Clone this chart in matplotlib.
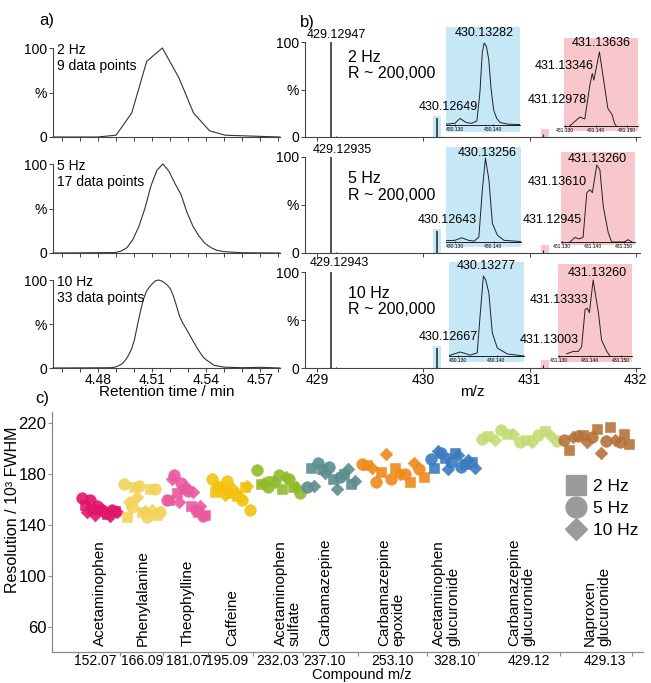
import numpy as np
import matplotlib.pyplot as plt
from matplotlib.lines import Line2D
from matplotlib.patches import Rectangle
from matplotlib.ticker import MultipleLocator, FixedLocator

plt.rcParams['font.family'] = ['Liberation Sans', 'DejaVu Sans']

W, H = 651, 683

# ---- a) extracted ion chromatograms (retention time in min, intensity in %)
rt_2hz = [4.455, 4.4796, 4.4900, 4.4987, 4.5070, 4.5157, 4.5250, 4.5330, 4.5419, 4.5506, 4.581]
int_2hz = [0, 0, 2, 27, 85, 100, 66, 27, 7, 2, 0]

rt_5hz = [4.455, 4.4893, 4.4927, 4.4960, 4.4993, 4.5027, 4.5060, 4.5093, 4.5127, 4.5160,
          4.5193, 4.5227, 4.5260, 4.5293, 4.5327, 4.5360, 4.5393, 4.5427, 4.5460, 4.5500,
          4.5600, 4.581]
int_5hz = [0, 0.5, 2, 6, 15, 30, 50, 75, 93, 100, 92, 78, 66, 46, 30, 19, 11, 6, 3, 1.5, 0.3, 0]

rt_10hz = [4.455, 4.4868, 4.4885, 4.4902, 4.4918, 4.4935, 4.4952, 4.4968, 4.4985, 4.5002,
           4.5018, 4.5035, 4.5052, 4.5068, 4.5085, 4.5102, 4.5118, 4.5135, 4.5152, 4.5168,
           4.5185, 4.5202, 4.5218, 4.5235, 4.5252, 4.5268, 4.5285, 4.5302, 4.5318, 4.5335,
           4.5352, 4.5368, 4.5385, 4.5402, 4.5445, 4.5500, 4.5600, 4.5700, 4.581]
int_10hz = [0, 0.3, 0.7, 1.5, 3, 5, 9, 14, 21, 32, 48, 64, 78, 87, 92, 96, 99, 100, 99, 97,
            94, 90, 82, 71, 59, 52, 46, 40, 34, 28, 22, 17, 12, 9, 3, 1, 0.3, 0.8, 0]

rt_ticks = [4.48, 4.51, 4.54, 4.57]
a_rate = ['2 Hz', '5 Hz', '10 Hz']
a_points = ['9 data points', '17 data points', '33 data points']

# ---- b) mass spectra
b_rate = ['2 Hz', '5 Hz', '10 Hz']
main_mz = [429.12947, 429.12935, 429.12943]
iso1_mz = [430.12649, 430.12643, 430.12667]
iso1_int = [20, 23, 21]
iso1_top = ['430.13282', '430.13256', '430.13277']
iso2_mz = [431.12978, 431.12945, 431.13003]
iso2_int = [3, 3, 3]
iso2_mid = ['431.13346', '431.13610', '431.13333']
iso2_top = ['431.13636', '431.13260', '431.13260']
minor_mz = 429.18
minor_int = 1.5

blue_mz = [
    [430.1277, 430.1300, 430.1314, 430.1330, 430.1344, 430.1358, 430.1366, 430.1372, 430.1377,
     430.1383, 430.1389, 430.1395, 430.1402, 430.1410, 430.1419, 430.1440, 430.1471],
    [430.1277, 430.1300, 430.1318, 430.1335, 430.1350, 430.1362, 430.1371, 430.1379, 430.1388,
     430.1397, 430.1410, 430.1427, 430.1471],
    [430.1277, 430.1306, 430.1320, 430.1332, 430.1350, 430.1358, 430.1366, 430.1372, 430.1380,
     430.1389, 430.1402, 430.1428, 430.1471],
]
blue_int = [
    [1, 2, 8, 3, 2, 5, 40, 88, 100, 96, 80, 45, 18, 8, 3, 1, 0.5],
    [1.5, 2, 5, 2, 1, 6, 62, 100, 74, 22, 8, 2, 0.5],
    [0.5, 5, 3, 1, 4, 54, 100, 95, 79, 29, 10, 2.5, 0],
]
pink_mz = [
    [431.1315, 431.1326, 431.1348, 431.1364, 431.1380, 431.1388, 431.1393, 431.1411, 431.1427,
     431.1438, 431.1452, 431.1459, 431.1465],
    [431.1326, 431.1342, 431.1355, 431.1368, 431.1380, 431.1390, 431.1398, 431.1412, 431.1422,
     431.1433, 431.1449, 431.1460, 431.1500, 431.1513, 431.1525],
    [431.1325, 431.1346, 431.1362, 431.1373, 431.1384, 431.1391, 431.1398, 431.1410, 431.1427,
     431.1437, 431.1454, 431.1464],
]
pink_int = [
    [0, 4, 12, 9.5, 55, 71, 62, 100, 55, 24, 15, 4, 0],
    [0, 6, 4, 6, 64, 68, 64, 100, 94, 46, 12, 0, 0, 3, 0],
    [3, 6, 6, 12, 61, 63, 57, 100, 57, 21, 6, 0],
]

# ---- c) resolution per compound
compounds = ['Acetaminophen', 'Phenylalanine', 'Theophylline', 'Caffeine',
             'Acetaminophen\nsulfate', 'Carbamazepine', 'Carbamazepine\nepoxide',
             'Acetaminophen\nglucuronide', 'Carbamazepine\nglucuronide', 'Naproxen\nglucuronide']
compound_mz = ['152.07', '166.09', '181.07', '195.09', '232.03', '237.10', '253.10',
               '328.10', '429.12', '429.13']
res_2hz = [[156, 153, 152, 149, 151], [146, 170, 150, 168, 148], [160, 165, 168, 155, 150, 148],
           [166, 168, 165, 163, 170], [172, 175, 168, 170], [185, 184, 176, 180, 172],
           [187, 182, 185, 174, 178], [185, 193, 197, 188, 190], [210, 212, 207, 214],
           [199, 211, 216, 217, 212, 204]]
res_5hz = [[161, 160, 155, 150, 152], [172, 154, 171, 146, 168, 150], [160, 179, 173, 167, 152, 147],
           [176, 170, 175, 165, 160, 152], [183, 170, 179, 176, 165], [170, 189, 186, 178],
           [188, 174, 176, 180, 184], [192, 197, 190, 186], [208, 215, 205, 211, 206],
           [207, 210, 209, 206, 205]]
res_10hz = [[150, 148, 153, 147, 150], [158, 162, 151, 152], [176, 158, 170, 166, 155],
            [171, 164, 169, 162, 171], [173, 174, 178, 170], [171, 181, 168, 184, 175],
            [185, 196, 180, 189], [198, 184, 195, 191, 185], [207, 212, 205, 210],
            [209, 205, 197, 207]]
colors = ['#e2156d', '#f3d35a', '#ea5a9e', '#f2c20f', '#8fbb2a', '#5c8d8c', '#f08a1a',
          '#3a7cbf', '#c2dc74', '#b5733a']

# layout of panel c (x units = pixels from the first category tick)
block_w = [42, 43, 45, 45, 50, 55, 69, 51, 82, 72]
mz_label_x = [17, 64, 109, 149, 200, 246, 314, 377, 451, 527]
name_x = [22, 65, 110, 154, 210, 247, 313, 368, 443, 519]

fig = plt.figure(figsize=(W / 100, H / 100), dpi=100)


def box(x0, y0, x1, y1):
    return [x0 / W, 1 - y1 / H, (x1 - x0) / W, (y1 - y0) / H]


def ftext(x, y, s, **kw):
    kw.setdefault('va', 'center')
    fig.text(x / W, 1 - y / H, s, **kw)


def fline(x0, y0, x1, y1):
    fig.add_artist(Line2D([x0 / W, x1 / W], [1 - y0 / H, 1 - y1 / H], color='#222', lw=0.7))


def frame(ax):
    for s in ['top', 'right']:
        ax.spines[s].set_visible(False)
    for s in ['left', 'bottom']:
        ax.spines[s].set_color('#444')
        ax.spines[s].set_linewidth(0.8)
    ax.tick_params(which='both', direction='out', length=3, width=0.7, color='#444',
                   labelsize=10, pad=1.5)
    ax.tick_params(axis='x', which='both', labelsize=10, pad=0.5)


# ---------------- a)
a_rt = [rt_2hz, rt_5hz, rt_10hz]
a_int = [int_2hz, int_5hz, int_10hz]
a_rows = [(48, 137), (164, 253), (280, 368)]
for i, (top, bot) in enumerate(a_rows):
    ax = fig.add_axes(box(53, top, 280, bot))
    frame(ax)
    ax.plot(a_rt[i], a_int[i], color='#333', lw=0.8, clip_on=False)
    ax.set_xlim(4.455, 4.581)
    ax.set_ylim(0, 100)
    ax.set_yticks([0, 50, 100])
    ax.set_yticklabels(['0', '%', '100'])
    ax.xaxis.set_major_locator(FixedLocator(rt_ticks))
    ax.xaxis.set_minor_locator(MultipleLocator(0.01))
    ax.set_xticklabels(['%.2f' % t for t in rt_ticks])
    if i < 2:
        ax.tick_params(labelbottom=False)
    else:
        ax.set_xlabel('Retention time / min', fontsize=11, labelpad=-1)
    ftext(57, top + 2, a_rate[i], fontsize=10)
    ftext(57, top + 18, a_points[i], fontsize=10)

ftext(47, 20, 'a)', fontsize=12, ha='center')

# ---------------- b)
blue = '#c6e7f6'
pink = '#f8c7cc'
b_rows = [(42, 137), (157, 253), (272, 368)]
blue_box = [(446, 27, 520, 132, 125, 43), (446, 147, 521, 247, 242, 158), (449, 262, 524, 362, 356, 276)]
pink_box = [(564, 38, 638, 131, 126, 52), (561, 152, 635, 245, 242, 165), (558, 264, 632, 362, 356, 280)]

for i, (top, bot) in enumerate(b_rows):
    ax = fig.add_axes(box(305, top, 640, bot))
    frame(ax)
    ax.set_xlim(428.885, 432.04)
    ax.set_ylim(0, 100)
    ax.set_yticks([0, 50, 100])
    ax.set_yticklabels(['0', '%', '100'])
    ax.set_xticks([429, 430, 431, 432])
    ax.add_patch(Rectangle((iso1_mz[i] - 0.04, 0), 0.08, iso1_int[i] + 2, color=blue, lw=0, zorder=0))
    ax.add_patch(Rectangle((iso2_mz[i] - 0.025, 0), 0.075, iso2_int[i] + 5, color=pink, lw=0, zorder=0))
    ax.vlines([main_mz[i]], 0, 100, color='#222', lw=1.1, clip_on=False)
    ax.vlines([iso1_mz[i]], 0, iso1_int[i], color='#222', lw=1.1)
    ax.vlines([iso2_mz[i], minor_mz], 0, [iso2_int[i], minor_int], color='#222', lw=0.8)
    if i < 2:
        ax.tick_params(labelbottom=False)
    else:
        ax.set_xlabel('m/z', fontsize=11, labelpad=-1)

    # zoomed isotope profiles
    for (x0, y0, x1, y1, base, peak), mz, it, fc, xl, xt in [
            (blue_box[i], blue_mz[i], blue_int[i], blue, (430.1277, 430.1471), [430.130, 430.140]),
            (pink_box[i], pink_mz[i], pink_int[i], pink, (431.1297, 431.1535), [431.130, 431.140, 431.150])]:
        ins = fig.add_axes(box(x0, y0, x1, y1))
        ins.set_zorder(3)
        ins.set_facecolor(fc)
        f0 = (y1 - base) / (y1 - y0)
        f1 = (y1 - peak) / (y1 - y0)
        rng = 100 / (f1 - f0)
        ins.set_ylim(-f0 * rng, -f0 * rng + rng)
        ins.set_xlim(*xl)
        ins.plot(mz, it, color='#222', lw=0.7)
        for s in ['top', 'right', 'left']:
            ins.spines[s].set_visible(False)
        ins.spines['bottom'].set_position(('data', 0))
        ins.spines['bottom'].set_linewidth(0.6)
        ins.set_yticks([])
        ins.set_xticks(xt)
        ins.set_xticklabels(['%.3f' % t for t in xt])
        ins.tick_params(axis='x', direction='inout', length=2, width=0.5, labelsize=3.6, pad=0.5)

ftext(307, 22, 'b)', fontsize=12, ha='center')

# b) texts
for i, yy in enumerate([57, 178, 293]):
    ftext(348, yy, b_rate[i], fontsize=11.5)
    ftext(348, yy + 17, 'R ~ 200,000', fontsize=11.5)

lab = dict(fontsize=9, ha='center')
main_xy = [(336, 35), (342, 150), (339, 263)]
top1_xy = [(484, 33), (487, 153), (486, 266)]
iso1_xy = [(448, 107), (447, 220), (448, 337)]
top2_xy = [(601, 43), (597, 159), (597, 273)]
mid2_xy = [(564, 66), (557, 182), (559, 300)]
iso2_xy = [(557, 100), (552, 220), (549, 340)]
for i in range(3):
    ftext(*main_xy[i], '%.5f' % main_mz[i], **lab)
    ftext(*top1_xy[i], iso1_top[i], **lab)
    ftext(*iso1_xy[i], '%.5f' % iso1_mz[i], **lab)
    ftext(*top2_xy[i], iso2_top[i], **lab)
    ftext(*mid2_xy[i], iso2_mid[i], **lab)
    ftext(*iso2_xy[i], '%.5f' % iso2_mz[i], **lab)

fline(455.7, 113.3, 461.7, 118.3)
fline(591.7, 71.7, 595, 80)
fline(576.7, 106.7, 583.3, 116.7)
fline(458.3, 228.3, 462.7, 236.7)
fline(573.3, 228.3, 577.3, 236.7)
fline(456, 345, 461, 351.7)
fline(566.7, 346.7, 570, 353.3)
fline(586, 303.3, 588.3, 310)

# ---------------- c)
edges = np.concatenate([[0], np.cumsum(block_w)])

ax = fig.add_axes(box(52, 412, 643, 652))
for s in ['top', 'right']:
    ax.spines[s].set_visible(False)
for s in ['left', 'bottom']:
    ax.spines[s].set_color('#8a8a8a')
    ax.spines[s].set_linewidth(0.9)
ax.set_xlim(-26, edges[-1] + 11)
ax.set_ylim(40, 229)
ax.set_yticks([60, 100, 140, 180, 220])
ax.tick_params(axis='y', direction='out', length=3, color='#8a8a8a', labelsize=12, pad=1)
ax.set_xticks(edges)
ax.set_xticklabels([])
ax.set_xticks(mz_label_x, minor=True)
ax.set_xticklabels(compound_mz, minor=True)
ax.tick_params(axis='x', which='major', direction='out', length=3, color='#8a8a8a')
ax.tick_params(axis='x', which='minor', length=0, labelsize=10, pad=1.5)
ax.set_xlabel('Compound m/z', fontsize=10.5)
ax.xaxis.set_label_coords((362 - 52) / 591, -0.068)
ax.set_ylabel('Resolution / 10³ FWHM', fontsize=11.5)
ax.yaxis.set_label_coords((20 - 52) / 591, (652 - 510) / 240)

sizes = {'s': 60, 'o': 70, 'D': 42}
for k in range(len(compounds)):
    seq = []
    groups = [(res_5hz[k], 'o'), (res_2hz[k], 's'), (res_10hz[k], 'D')]
    for j in range(max(len(g[0]) for g in groups)):
        for vals, m in groups:
            if j < len(vals):
                seq.append((vals[j], m))
    xs = np.linspace(edges[k] + 4, edges[k + 1] - 3, len(seq))
    for m in ['s', 'o', 'D']:
        px = [x for x, (v, mm) in zip(xs, seq) if mm == m]
        py = [v for v, mm in seq if mm == m]
        ax.scatter(px, py, marker=m, s=sizes[m], color=colors[k], alpha=0.9,
                   edgecolors=colors[k], linewidths=0.4, zorder=3)
    ax.text(name_x[k], 45, compounds[k], rotation=90, ha='center', va='bottom',
            multialignment='left', fontsize=11, linespacing=1.0)

handles = [Line2D([], [], marker='s', ls='', color='#9b9b9b', markersize=14.5),
           Line2D([], [], marker='o', ls='', color='#9b9b9b', markersize=15),
           Line2D([], [], marker='D', ls='', color='#9b9b9b', markersize=11.5)]
fig.legend(handles, ['2 Hz', '5 Hz', '10 Hz'], loc='upper left',
           bbox_to_anchor=(557 / W, 1 - 470 / H), frameon=False, fontsize=12.5,
           handlelength=1.2, handletextpad=0.35, labelspacing=0.4, borderpad=0)

ftext(42, 398, 'c)', fontsize=12, ha='center')

fig.savefig('out.png', dpi=100)
